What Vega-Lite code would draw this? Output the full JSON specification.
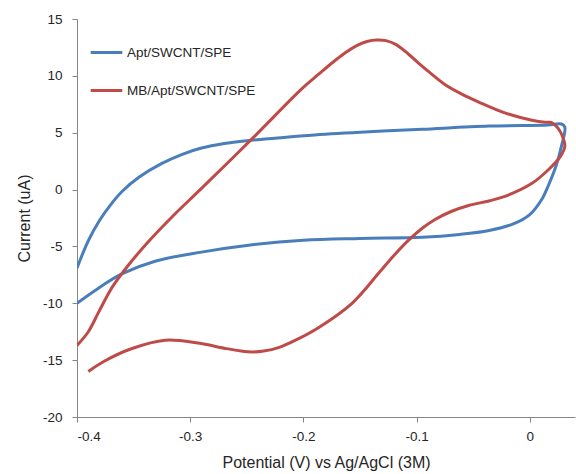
{
  "$schema": "https://vega.github.io/schema/vega-lite/v6.json",
  "width": 498,
  "height": 398,
  "autosize": {"type": "none"},
  "padding": {"left": 77, "top": 19, "right": 1, "bottom": 57},
  "config": {
    "view": {"stroke": null},
    "font": "Liberation Sans",
    "axis": {
      "grid": false,
      "domainColor": "#868686",
      "tickColor": "#868686",
      "tickSize": 5,
      "labelFontSize": 13.5,
      "labelColor": "#262626",
      "titleFontSize": 16,
      "titleFontWeight": "normal",
      "titleColor": "#262626",
      "labelFont": "Liberation Sans",
      "titleFont": "Liberation Sans",
      "labelExpr": "replace(datum.label, '−', '-')"
    }
  },
  "data": {
    "values": [
      {"s": "Apt/SWCNT/SPE", "o": 1, "x": -0.4, "y": -6.9},
      {"s": "Apt/SWCNT/SPE", "o": 2, "x": -0.39, "y": -4.5},
      {"s": "Apt/SWCNT/SPE", "o": 3, "x": -0.38, "y": -2.7},
      {"s": "Apt/SWCNT/SPE", "o": 4, "x": -0.37, "y": -1.3},
      {"s": "Apt/SWCNT/SPE", "o": 5, "x": -0.36, "y": -0.15},
      {"s": "Apt/SWCNT/SPE", "o": 6, "x": -0.345, "y": 1.1},
      {"s": "Apt/SWCNT/SPE", "o": 7, "x": -0.325, "y": 2.3},
      {"s": "Apt/SWCNT/SPE", "o": 8, "x": -0.307, "y": 3.1},
      {"s": "Apt/SWCNT/SPE", "o": 9, "x": -0.29, "y": 3.65},
      {"s": "Apt/SWCNT/SPE", "o": 10, "x": -0.27, "y": 4.05},
      {"s": "Apt/SWCNT/SPE", "o": 11, "x": -0.25, "y": 4.3},
      {"s": "Apt/SWCNT/SPE", "o": 12, "x": -0.225, "y": 4.52},
      {"s": "Apt/SWCNT/SPE", "o": 13, "x": -0.19, "y": 4.8},
      {"s": "Apt/SWCNT/SPE", "o": 14, "x": -0.142, "y": 5.08},
      {"s": "Apt/SWCNT/SPE", "o": 15, "x": -0.095, "y": 5.3},
      {"s": "Apt/SWCNT/SPE", "o": 16, "x": -0.036, "y": 5.58},
      {"s": "Apt/SWCNT/SPE", "o": 17, "x": 0.016, "y": 5.68},
      {"s": "Apt/SWCNT/SPE", "o": 18, "x": 0.028, "y": 5.77},
      {"s": "Apt/SWCNT/SPE", "o": 19, "x": 0.031, "y": 5.5},
      {"s": "Apt/SWCNT/SPE", "o": 20, "x": 0.028, "y": 3.8},
      {"s": "Apt/SWCNT/SPE", "o": 21, "x": 0.023, "y": 2.0},
      {"s": "Apt/SWCNT/SPE", "o": 22, "x": 0.016, "y": 0.25},
      {"s": "Apt/SWCNT/SPE", "o": 23, "x": 0.011, "y": -0.8},
      {"s": "Apt/SWCNT/SPE", "o": 24, "x": 0.0, "y": -2.2},
      {"s": "Apt/SWCNT/SPE", "o": 25, "x": -0.014, "y": -3.0},
      {"s": "Apt/SWCNT/SPE", "o": 26, "x": -0.036, "y": -3.6},
      {"s": "Apt/SWCNT/SPE", "o": 27, "x": -0.062, "y": -3.95},
      {"s": "Apt/SWCNT/SPE", "o": 28, "x": -0.095, "y": -4.2},
      {"s": "Apt/SWCNT/SPE", "o": 29, "x": -0.15, "y": -4.3},
      {"s": "Apt/SWCNT/SPE", "o": 30, "x": -0.2, "y": -4.45},
      {"s": "Apt/SWCNT/SPE", "o": 31, "x": -0.245, "y": -4.85},
      {"s": "Apt/SWCNT/SPE", "o": 32, "x": -0.29, "y": -5.5},
      {"s": "Apt/SWCNT/SPE", "o": 33, "x": -0.331, "y": -6.3},
      {"s": "Apt/SWCNT/SPE", "o": 34, "x": -0.36, "y": -7.4},
      {"s": "Apt/SWCNT/SPE", "o": 35, "x": -0.383, "y": -8.8},
      {"s": "Apt/SWCNT/SPE", "o": 36, "x": -0.4, "y": -10.0},
      {"s": "MB/Apt/SWCNT/SPE", "o": 1, "x": -0.39, "y": -16.0},
      {"s": "MB/Apt/SWCNT/SPE", "o": 2, "x": -0.376, "y": -15.1},
      {"s": "MB/Apt/SWCNT/SPE", "o": 3, "x": -0.352, "y": -14.0},
      {"s": "MB/Apt/SWCNT/SPE", "o": 4, "x": -0.322, "y": -13.25},
      {"s": "MB/Apt/SWCNT/SPE", "o": 5, "x": -0.293, "y": -13.5},
      {"s": "MB/Apt/SWCNT/SPE", "o": 6, "x": -0.27, "y": -13.95},
      {"s": "MB/Apt/SWCNT/SPE", "o": 7, "x": -0.255, "y": -14.2},
      {"s": "MB/Apt/SWCNT/SPE", "o": 8, "x": -0.245, "y": -14.28},
      {"s": "MB/Apt/SWCNT/SPE", "o": 9, "x": -0.235, "y": -14.2},
      {"s": "MB/Apt/SWCNT/SPE", "o": 10, "x": -0.222, "y": -13.9},
      {"s": "MB/Apt/SWCNT/SPE", "o": 11, "x": -0.206, "y": -13.2},
      {"s": "MB/Apt/SWCNT/SPE", "o": 12, "x": -0.186, "y": -12.1},
      {"s": "MB/Apt/SWCNT/SPE", "o": 13, "x": -0.157, "y": -10.0},
      {"s": "MB/Apt/SWCNT/SPE", "o": 14, "x": -0.133, "y": -7.3},
      {"s": "MB/Apt/SWCNT/SPE", "o": 15, "x": -0.12, "y": -5.8},
      {"s": "MB/Apt/SWCNT/SPE", "o": 16, "x": -0.107, "y": -4.45},
      {"s": "MB/Apt/SWCNT/SPE", "o": 17, "x": -0.095, "y": -3.4},
      {"s": "MB/Apt/SWCNT/SPE", "o": 18, "x": -0.084, "y": -2.65},
      {"s": "MB/Apt/SWCNT/SPE", "o": 19, "x": -0.07, "y": -1.95},
      {"s": "MB/Apt/SWCNT/SPE", "o": 20, "x": -0.054, "y": -1.4},
      {"s": "MB/Apt/SWCNT/SPE", "o": 21, "x": -0.036, "y": -1.0},
      {"s": "MB/Apt/SWCNT/SPE", "o": 22, "x": -0.022, "y": -0.6},
      {"s": "MB/Apt/SWCNT/SPE", "o": 23, "x": 0.002, "y": 0.55},
      {"s": "MB/Apt/SWCNT/SPE", "o": 24, "x": 0.016, "y": 1.7},
      {"s": "MB/Apt/SWCNT/SPE", "o": 25, "x": 0.027, "y": 2.9},
      {"s": "MB/Apt/SWCNT/SPE", "o": 26, "x": 0.031, "y": 3.8},
      {"s": "MB/Apt/SWCNT/SPE", "o": 27, "x": 0.030, "y": 4.4},
      {"s": "MB/Apt/SWCNT/SPE", "o": 28, "x": 0.025, "y": 5.4},
      {"s": "MB/Apt/SWCNT/SPE", "o": 29, "x": 0.019, "y": 5.9},
      {"s": "MB/Apt/SWCNT/SPE", "o": 30, "x": 0.0135, "y": 5.92},
      {"s": "MB/Apt/SWCNT/SPE", "o": 31, "x": 0.002, "y": 6.1},
      {"s": "MB/Apt/SWCNT/SPE", "o": 32, "x": -0.022, "y": 6.75},
      {"s": "MB/Apt/SWCNT/SPE", "o": 33, "x": -0.045, "y": 7.7},
      {"s": "MB/Apt/SWCNT/SPE", "o": 34, "x": -0.06, "y": 8.4},
      {"s": "MB/Apt/SWCNT/SPE", "o": 35, "x": -0.075, "y": 9.25},
      {"s": "MB/Apt/SWCNT/SPE", "o": 36, "x": -0.089, "y": 10.35},
      {"s": "MB/Apt/SWCNT/SPE", "o": 37, "x": -0.098, "y": 11.1},
      {"s": "MB/Apt/SWCNT/SPE", "o": 38, "x": -0.107, "y": 11.9},
      {"s": "MB/Apt/SWCNT/SPE", "o": 39, "x": -0.118, "y": 12.75},
      {"s": "MB/Apt/SWCNT/SPE", "o": 40, "x": -0.127, "y": 13.1},
      {"s": "MB/Apt/SWCNT/SPE", "o": 41, "x": -0.135, "y": 13.16},
      {"s": "MB/Apt/SWCNT/SPE", "o": 42, "x": -0.143, "y": 13.05},
      {"s": "MB/Apt/SWCNT/SPE", "o": 43, "x": -0.152, "y": 12.7},
      {"s": "MB/Apt/SWCNT/SPE", "o": 44, "x": -0.162, "y": 12.1},
      {"s": "MB/Apt/SWCNT/SPE", "o": 45, "x": -0.172, "y": 11.35},
      {"s": "MB/Apt/SWCNT/SPE", "o": 46, "x": -0.187, "y": 10.1},
      {"s": "MB/Apt/SWCNT/SPE", "o": 47, "x": -0.201, "y": 8.9},
      {"s": "MB/Apt/SWCNT/SPE", "o": 48, "x": -0.245, "y": 4.5},
      {"s": "MB/Apt/SWCNT/SPE", "o": 49, "x": -0.29, "y": 0.1},
      {"s": "MB/Apt/SWCNT/SPE", "o": 50, "x": -0.315, "y": -2.3},
      {"s": "MB/Apt/SWCNT/SPE", "o": 51, "x": -0.338, "y": -4.7},
      {"s": "MB/Apt/SWCNT/SPE", "o": 52, "x": -0.355, "y": -6.7},
      {"s": "MB/Apt/SWCNT/SPE", "o": 53, "x": -0.369, "y": -8.6},
      {"s": "MB/Apt/SWCNT/SPE", "o": 54, "x": -0.381, "y": -10.8},
      {"s": "MB/Apt/SWCNT/SPE", "o": 55, "x": -0.39, "y": -12.5},
      {"s": "MB/Apt/SWCNT/SPE", "o": 56, "x": -0.4, "y": -13.7}
    ]
  },
  "mark": {"type": "line", "interpolate": "catmull-rom", "strokeWidth": 3, "clip": true},
  "encoding": {
    "x": {
      "field": "x", "type": "quantitative",
      "scale": {"domain": [-0.4, 0.04], "nice": false, "zero": false},
      "axis": {"values": [-0.4, -0.3, -0.2, -0.1, 0], "format": "~g", "labelPadding": 7, "title": "Potential (V) vs Ag/AgCl (3M)", "titlePadding": 12}
    },
    "y": {
      "field": "y", "type": "quantitative",
      "scale": {"domain": [-20, 15], "nice": false, "zero": false},
      "axis": {"values": [-20, -15, -10, -5, 0, 5, 10, 15], "labelPadding": 10, "title": "Current (uA)", "titlePadding": 10}
    },
    "order": {"field": "o", "type": "quantitative"},
    "color": {
      "field": "s", "type": "nominal",
      "scale": {"domain": ["Apt/SWCNT/SPE", "MB/Apt/SWCNT/SPE"], "range": ["#4A7EBB", "#BE4B48"]},
      "legend": {
        "title": null,
        "orient": "none",
        "legendX": 12,
        "legendY": 16,
        "symbolType": "stroke",
        "symbolSize": 1000,
        "symbolStrokeWidth": 3,
        "labelFontSize": 13.5,
        "labelColor": "#262626",
        "labelFont": "Liberation Sans",
        "rowPadding": 14,
        "labelOffset": 3
      }
    }
  }
}
